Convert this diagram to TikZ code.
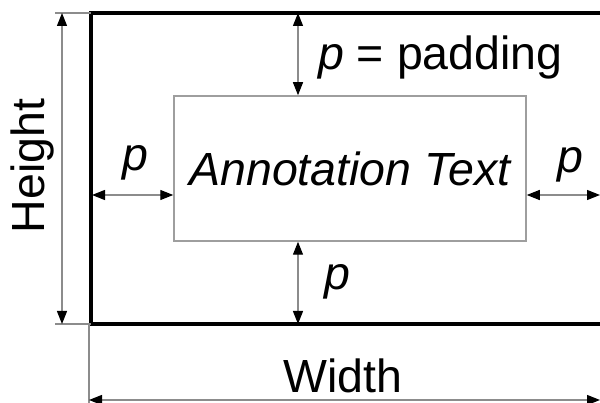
\documentclass[tikz,border=0pt]{standalone}
\usepackage{fontspec}
\setmainfont{Liberation Sans}
\usetikzlibrary{arrows.meta}
\definecolor{dimgray}{gray}{0.55}
\definecolor{boxgray}{gray}{0.62}
\tikzset{
  tip/.tip={Triangle[length=13pt,width=10pt,color=black]},
  dimline/.style={draw=dimgray,line width=1.3pt},
  dimarrow/.style={dimline,tip-tip},
  extline/.style={draw=dimgray,line width=1.1pt},
  frame/.style={draw=black,line width=4.5pt},
  annbox/.style={draw=boxgray,line width=1.5pt,minimum width=352pt,minimum height=145pt,inner sep=0pt},
  lbl/.style={inner sep=0pt,font=\fontsize{46.5}{56}\selectfont}
}
\begin{document}
\begin{tikzpicture}[x=1pt,y=1pt]
  \useasboundingbox (0,0) rectangle (600,403);
  \clip (0,0) rectangle (600,403);

  % outer frame (runs past the right edge)
  \coordinate (fTL) at (91,390);
  \coordinate (fBL) at (91,79);
  \draw[frame] (630,390) -- (fTL) -- (fBL) -- (630,79);

  % annotation box
  \node[annbox,lbl] (ann) at (350,234.5) {\itshape Annotation Text};

  % height dimension
  \coordinate (hT0) at (55,390);
  \coordinate (hB0) at (55,79);
  \coordinate (hT) at (62,390);
  \coordinate (hB) at (62,79);
  \draw[extline] (hT0) -- (fTL);
  \draw[extline] (hB0) -- (fBL);
  \draw[dimarrow] (hT) -- (hB);
  \node[lbl,rotate=90,anchor=base] (hlbl) at (45,237) {Height};

  % width dimension
  \coordinate (wE) at (89,79);
  \coordinate (wL) at (89,3);
  \coordinate (wR) at (600,3);
  \draw[extline] (wE) -- (89,-5);
  \draw[dimarrow] (wL) -- (wR);
  \node[lbl,anchor=base] (wlbl) at (343,10) {Width};

  % padding arrows
  \coordinate (pL) at (92,208);
  \coordinate (pR) at (600,208);
  \coordinate (pT) at (298,390);
  \coordinate (pB) at (298,79);
  \draw[dimarrow] (pL) -- (ann.west |- pL);
  \draw[dimarrow] (ann.east |- pR) -- (pR);
  \draw[dimarrow] (pT) -- (ann.north -| pT);
  \draw[dimarrow] (ann.south -| pB) -- (pB);

  % padding labels
  \node[lbl,anchor=base west] (ptop) at (318,333) {\itshape p\upshape{} = padding};
  \node[lbl,anchor=base] (pleft) at (135,232) {\itshape p};
  \node[lbl,anchor=base] (pright) at (570,230) {\itshape p};
  \node[lbl,anchor=base] (pbot) at (337,113) {\itshape p};
\end{tikzpicture}
\end{document}
